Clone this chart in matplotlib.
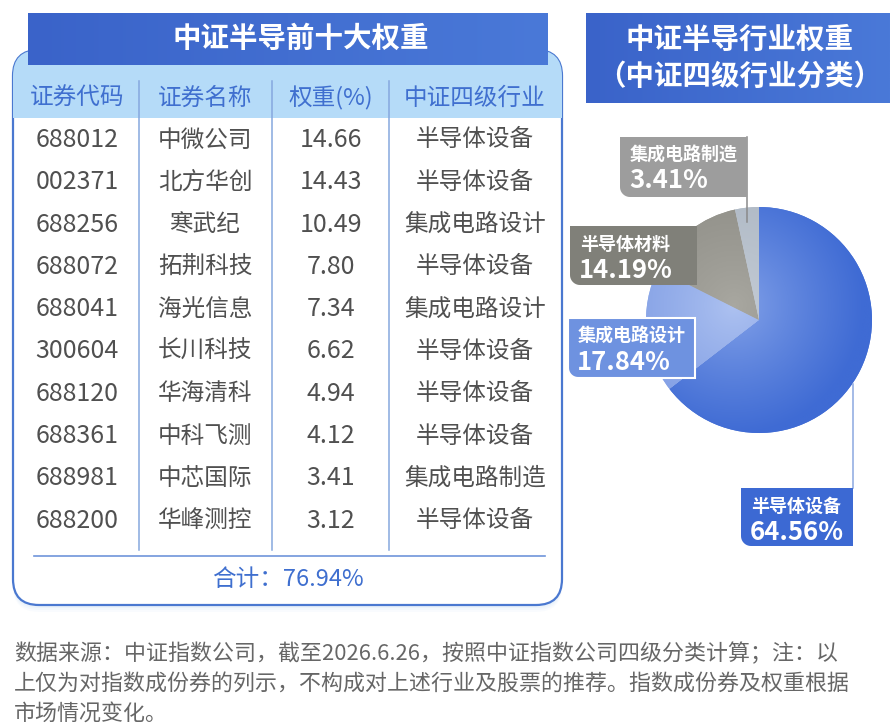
import numpy as np
import matplotlib
matplotlib.use('Agg')
import matplotlib.pyplot as plt
from matplotlib.patches import FancyBboxPatch, Rectangle, Polygon
from matplotlib.colors import LinearSegmentedColormap

plt.rcParams['font.family'] = ['Noto Sans CJK SC', 'DejaVu Sans']

# table data
codes = ['688012', '002371', '688256', '688072', '688041',
         '300604', '688120', '688361', '688981', '688200']
names = ['中微公司', '北方华创', '寒武纪', '拓荆科技', '海光信息',
         '长川科技', '华海清科', '中科飞测', '中芯国际', '华峰测控']
weights = [14.66, 14.43, 10.49, 7.80, 7.34, 6.62, 4.94, 4.12, 3.41, 3.12]
industries = ['半导体设备', '半导体设备', '集成电路设计', '半导体设备', '集成电路设计',
              '半导体设备', '半导体设备', '半导体设备', '集成电路制造', '半导体设备']
headers = ['证券代码', '证券名称', '权重(%)', '中证四级行业']
total_label = '合计：76.94%'

# pie data
sectors = ['半导体设备', '集成电路设计', '半导体材料', '集成电路制造']
shares = [64.56, 17.84, 14.19, 3.41]

footer = ['数据来源：中证指数公司，截至2026.6.26，按照中证指数公司四级分类计算；注：以',
          '上仅为对指数成份券的列示，不构成对上述行业及股票的推荐。指数成份券及权重根据',
          '市场情况变化。']

BLUE = '#3F6BD0'
HEAD_BG = '#B5DBF8'
TXT = '#505050'

fig = plt.figure(figsize=(8.9, 7.28), dpi=100)
ax = fig.add_axes([0, 0, 1, 1])
ax.set_xlim(0, 890)
ax.set_ylim(728, 0)
ax.axis('off')


def hgrad(a, x0, x1, y0, y1, c0, c1, clip=None, z=2):
    cmap = LinearSegmentedColormap.from_list('g', [c0, c1])
    g = np.linspace(0, 1, 256).reshape(1, -1)
    im = a.imshow(g, cmap=cmap, extent=(x0, x1, y1, y0), aspect='auto', zorder=z)
    if clip is not None:
        im.set_clip_path(clip)
    return im


def corner_box(x0, y0, x1, y1, r):
    t = np.linspace(0, np.pi / 2, 12)
    arc = np.column_stack([x0 + r - r * np.sin(t), y1 - r + r * np.cos(t)])
    pts = np.vstack([[[x0, y0], [x1, y0], [x1, y1]], arc])
    return pts


# left panel shadow
for k, al in zip([7, 5, 3], [0.05, 0.07, 0.09]):
    sh = FancyBboxPatch((13, 50 + k), 549, 555, boxstyle='round,pad=0,rounding_size=26',
                        fc='#9CC3EE', ec='none', alpha=al, zorder=0.5)
    ax.add_patch(sh)

box = FancyBboxPatch((13, 50), 549, 555, boxstyle='round,pad=0,rounding_size=26',
                     fc='white', ec='#4A78D0', lw=1.6, zorder=1)
ax.add_patch(box)
band = Rectangle((13, 50), 549, 68, fc=HEAD_BG, ec='none', zorder=1.2)
ax.add_patch(band)
band.set_clip_path(box)

# title banner left
banner = Rectangle((28, 13), 520, 52, fc='none', ec='none')
ax.add_patch(banner)
hgrad(ax, 28, 548, 13, 65, '#3A63C9', '#4A79D8', clip=banner, z=2)
ax.text(301, 39, '中证半导前十大权重', color='white', fontsize=20.5, fontweight='bold',
        ha='center', va='center', zorder=3)

col_x = [77, 205, 331, 475]
for cx, h in zip(col_x, headers):
    ax.text(cx, 98, h, color='#3F6FCF', fontsize=17, ha='center', va='center', zorder=3)

for dx in [139, 272, 389]:
    ax.plot([dx, dx], [81, 550], color='#86A8DE', lw=1.1, zorder=2)

row_y = 140 + np.arange(len(codes)) * 42.3
for i in range(len(codes)):
    y = row_y[i]
    ax.text(col_x[0], y, codes[i], color=TXT, fontsize=18, ha='center', va='center', zorder=3)
    ax.text(col_x[1], y, names[i], color=TXT, fontsize=17, ha='center', va='center', zorder=3)
    ax.text(col_x[2], y, f'{weights[i]:.2f}', color=TXT, fontsize=18, ha='center', va='center', zorder=3)
    ax.text(col_x[3], y, industries[i], color=TXT, fontsize=17, ha='center', va='center', zorder=3)

ax.plot([34, 545], [556, 556], color='#6F95DA', lw=1.2, zorder=2)
ax.text(288, 580, total_label, color='#3F6FCF', fontsize=17, ha='center', va='center', zorder=3)

# right title
rbanner = Rectangle((586, 13), 304, 90, fc='none', ec='none')
ax.add_patch(rbanner)
hgrad(ax, 586, 890, 13, 103, '#3A63C9', '#4A79D8', clip=rbanner, z=2)
ax.text(740, 40, '中证半导行业权重', color='white', fontsize=20.5, fontweight='bold',
        ha='center', va='center', zorder=3)
ax.text(740, 77, '（中证四级行业分类）', color='white', fontsize=20.5, fontweight='bold',
        ha='center', va='center', zorder=3)

# footer
for j, line in enumerate(footer):
    ax.text(14, 654 + j * 30, line, color='#666666', fontsize=15.8, ha='left', va='center')

ax.set_xlim(0, 890)
ax.set_ylim(728, 0)

# pie
cx, cy, R = 759, 320, 113
pax = fig.add_axes([(cx - 130) / 890, (728 - cy - 130) / 728, 260 / 890, 260 / 728])
pie_cols = ['#4A74D8', '#93AEEA', '#9C9B94', '#B9C2CD']
wedges, _ = pax.pie(shares, radius=R, startangle=90, counterclock=False, colors=pie_cols,
                    wedgeprops=dict(lw=0))
pax.axis('off')

grads = [('#87A5EA', '#3F6BD4'), ('#AFC3F1', '#7E9CE4'), ('#A9A8A1', '#8F8E87'), ('#C4CCD6', '#AEB8C4')]
xx, yy = np.meshgrid(np.linspace(-R, R, 300), np.linspace(-R, R, 300))
rr = np.clip(np.hypot(xx + 25, yy - 15) / (R * 1.15), 0, 1) ** 0.8
for w, (c0, c1) in zip(wedges, grads):
    cmap = LinearSegmentedColormap.from_list('r', [c0, c1])
    im = pax.imshow(rr, cmap=cmap, vmin=0, vmax=1, extent=(-R, R, -R, R), origin='lower', zorder=2)
    im.set_clip_path(w)
pax.set_xlim(-130, 130)
pax.set_ylim(-130, 130)

# label overlay
top = fig.add_axes([0, 0, 1, 1], zorder=5)
top.set_xlim(0, 890)
top.set_ylim(728, 0)
top.axis('off')
top.patch.set_alpha(0)

# leader lines
top.plot([747, 747], [137, 222], color='#8A8A8A', lw=1.1, zorder=1)
top.plot([853, 853], [384, 488], color='#8CA8E0', lw=1.1, zorder=1)

labels = [
    (620, 137, 747, 197, '#9D9D9D', None),   # 集成电路制造
    (570, 226, 697, 285, '#808079', None),   # 半导体材料
    (568, 318, 695, 378, '#6E92E0', 'white'),  # 集成电路设计
    (741, 488, 853, 546, '#3C69D3', None),   # 半导体设备
]
order = [3, 2, 1, 0]
for (x0, y0, x1, y1, fc, ec), si in zip(labels, order):
    poly = Polygon(corner_box(x0, y0, x1, y1, 10), closed=True, fc=fc,
                   ec=ec if ec else 'none', lw=1.5, zorder=2)
    top.add_patch(poly)
    top.text(x0 + 10, y0 + 18, sectors[si], color='white', fontsize=13, fontweight='bold',
             ha='left', va='center', zorder=3)
    top.text(x0 + 9, y0 + 44, f'{shares[si]:.2f}%', color='white', fontsize=18.5, fontweight='bold',
             ha='left', va='center', zorder=3)

fig.savefig('out.png', dpi=100)
